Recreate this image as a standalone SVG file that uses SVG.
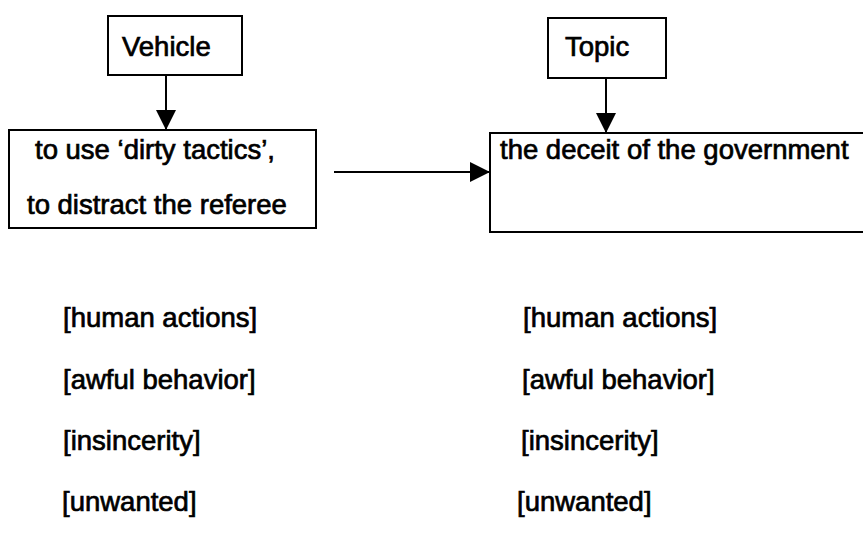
<svg xmlns="http://www.w3.org/2000/svg" width="863" height="537" viewBox="0 0 863 537">
<defs>
<marker id="ah" viewBox="0 0 20 20" refX="20" refY="10" markerWidth="20" markerHeight="20" markerUnits="userSpaceOnUse" orient="auto">
<path d="M0,0 L20,10 L0,20 Z" fill="#000"/>
</marker>
<style>
rect{fill:#fff;stroke:#000;stroke-width:2}
text{font-family:"Liberation Sans",Arial,sans-serif;font-size:27.5px;fill:#000;stroke:#000;stroke-width:0.7}
.c{stroke:#000;stroke-width:2;fill:none}
</style>
</defs>
<rect x="0" y="0" width="863" height="537" style="stroke:none"/>
<g id="vehicle">
<rect x="108" y="16" width="134" height="59"/>
<text x="122" y="56">Vehicle</text>
</g>
<g id="vehicle-content">
<rect x="9" y="130" width="307" height="98"/>
<text x="35" y="159">to use ‘dirty tactics’,</text>
<text x="27" y="214">to distract the referee</text>
</g>
<g id="topic">
<rect x="548" y="18" width="118" height="60"/>
<text x="565" y="56">Topic</text>
</g>
<g id="topic-content">
<rect x="490" y="133" width="380" height="99"/>
<text x="500" y="159">the deceit of the government</text>
</g>
<g id="vehicle-features">
<text x="63" y="327">[human actions]</text>
<text x="63" y="389">[awful behavior]</text>
<text x="63" y="450">[insincerity]</text>
<text x="62" y="511">[unwanted]</text>
</g>
<g id="topic-features">
<text x="523" y="327">[human actions]</text>
<text x="522" y="389">[awful behavior]</text>
<text x="521" y="450">[insincerity]</text>
<text x="517" y="511">[unwanted]</text>
</g>
<g id="connectors">
<line class="c" x1="166" y1="75" x2="166" y2="130" marker-end="url(#ah)"/>
<line class="c" x1="606" y1="78" x2="606" y2="133" marker-end="url(#ah)"/>
<line class="c" x1="334" y1="172" x2="490" y2="172" marker-end="url(#ah)"/>
</g>
</svg>
